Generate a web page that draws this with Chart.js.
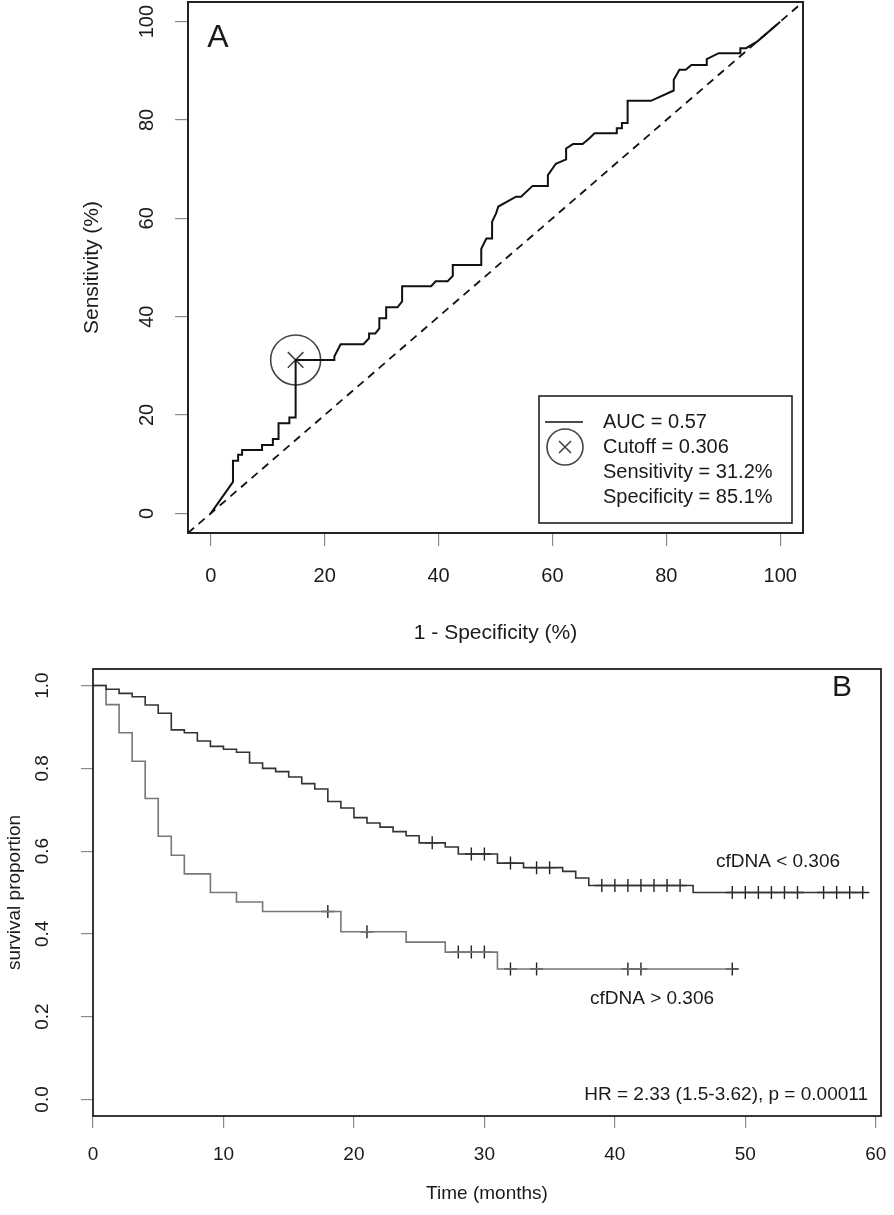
<!DOCTYPE html>
<html><head><meta charset="utf-8">
<script src="https://cdn.jsdelivr.net/npm/chart.js@4.4.1/dist/chart.umd.min.js"></script>
<style>
html,body{margin:0;padding:0;background:#fff;}
#wrap{position:relative;width:894px;height:1215px;overflow:hidden;background:#fff;}
#cA{position:absolute;left:0;top:0;}
#cB{position:absolute;left:0;top:650px;}
</style></head><body>
<div id="wrap"><canvas id="cA" width="894" height="650"></canvas><canvas id="cB" width="894" height="565"></canvas></div>
<script>
// ---------- Panel A data (ROC) ----------
const rocFpr = [0,3.9,3.9,4.8,4.8,5.5,5.5,9.0,9.0,10.9,10.9,11.9,11.9,13.8,13.8,14.9,14.9,
  21.7,21.7,22.8,26.8,27.8,27.8,28.9,29.6,29.6,30.8,30.8,32.8,33.6,33.6,38.7,39.5,41.6,42.5,42.5,
  47.5,47.5,48.4,49.4,49.4,50.1,50.5,53.6,54.5,56.5,59.2,59.2,60.6,62.4,62.4,63.6,65.3,66.5,67.4,
  71.3,71.3,72.2,72.2,73.2,73.2,77.3,81.3,81.3,82.3,83.4,84.4,87.1,87.1,89.2,93.0,93.0,94.0,96.0,100];
const rocTpr = [0,6.4,10.7,10.7,11.9,11.9,12.9,12.9,13.9,13.9,15.1,15.1,18.3,18.3,19.5,19.5,31.2,
  31.2,31.9,34.4,34.4,35.6,36.6,36.6,37.6,39.7,39.7,41.9,41.9,43.1,46.2,46.2,47.2,47.2,48.3,50.5,
  50.5,53.8,55.9,55.9,59.3,61.0,62.4,64.4,64.4,66.6,66.6,68.8,71.1,72.0,74.2,75.1,75.1,76.3,77.3,
  77.3,78.3,78.3,79.4,79.4,83.9,83.9,86.0,88.2,90.2,90.2,91.2,91.2,92.4,93.6,93.6,94.6,94.6,96.0,100];
const cutoffFpr = 14.9;
const cutoffTpr = 31.2;
const rocTicks = [0,20,40,60,80,100];
const rocRange = [-4,104];
const legendLines = ['AUC = 0.57','Cutoff = 0.306','Sensitivity = 31.2%','Specificity = 85.1%'];

// ---------- Panel B data (Kaplan-Meier) ----------
const kmTicksX = [0,10,20,30,40,50,60];
const kmTicksY = [0,0.2,0.4,0.6,0.8,1.0];
const kmTickLabelsY = ['0.0','0.2','0.4','0.6','0.8','1.0'];
const lowTimes  = [0,1,2,3,4,5,6,7,9,11,13,19,24,27,31];
const lowSurv   = [1.000,0.954,0.886,0.817,0.727,0.636,0.590,0.545,0.500,0.477,0.454,0.405,0.380,0.356,0.315];
const lowEnd    = 49;
const lowCensor = [18,21,28,29,30,32,34,41,42,49];
const highTimes = [0,1,2,3,4,5,6,7,8,9,10,11,12,13,14,15,16,17,18,19,20,21,22,23,24,25,27,28,31,33,36,37,38,46];
const highSurv  = [1.000,0.991,0.981,0.973,0.953,0.933,0.893,0.886,0.866,0.853,0.846,0.839,0.813,0.800,0.792,0.779,0.763,0.750,0.720,0.704,0.681,0.668,0.658,0.647,0.637,0.620,0.610,0.593,0.571,0.560,0.551,0.535,0.517,0.500];
const highEnd   = 59;
const highCensor= [26,29,30,32,34,35,39,40,41,42,43,44,45,49,50,51,52,53,54,56,57,58,59];
const hrText = 'HR = 2.33 (1.5-3.62), p = 0.00011';
const groupLabels = ['cfDNA < 0.306','cfDNA > 0.306'];

// ---------- helpers ----------
const FONT = "'Liberation Sans', Arial, Helvetica, sans-serif";
Chart.defaults.font.family = FONT;
Chart.defaults.color = '#1a1a1a';
const INK = '#1a1a1a';

function stepPoints(ts, ss, end){
  const pts = ts.map((t,i)=>({x:t,y:ss[i]}));
  pts.push({x:end,y:ss[ss.length-1]});
  return pts;
}
function survAt(ts, ss, t){
  let v = ss[0];
  for(let i=0;i<ts.length;i++){ if(ts[i] <= t) v = ss[i]; }
  return v;
}
function boxPlugin(color, width){
  return {id:'box', afterDatasetsDraw(chart){
    const {ctx, chartArea:a} = chart;
    ctx.save(); ctx.strokeStyle=color; ctx.lineWidth=width;
    ctx.strokeRect(a.left, a.top, a.right-a.left, a.bottom-a.top);
    ctx.restore();
  }};
}
function rotYTicks(labels, x, font){
  return {id:'rotY', afterDraw(chart){
    const s = chart.scales.y, ctx = chart.ctx;
    ctx.save(); ctx.font = font; ctx.fillStyle = INK;
    ctx.textAlign='center'; ctx.textBaseline='middle';
    s.ticks.forEach((t,i)=>{
      const y = s.getPixelForValue(t.value);
      ctx.save(); ctx.translate(x,y); ctx.rotate(-Math.PI/2);
      ctx.fillText(labels[i], 0, 0); ctx.restore();
    });
    ctx.restore();
  }};
}
function textPlugin(items){
  return {id:'texts', afterDraw(chart){
    const ctx = chart.ctx;
    ctx.save(); ctx.fillStyle = INK; ctx.textBaseline='middle';
    items.forEach(it=>{ ctx.font = it.font; ctx.textAlign = it.align||'center'; ctx.fillText(it.text, it.x, it.y); });
    ctx.restore();
  }};
}
function scaleBase(opts){
  return Object.assign({
    type:'linear',
    border:{display:false},
    grid:{drawOnChartArea:false, drawTicks:true, tickLength:12, color:'#8a8a8a', lineWidth:1.2},
  }, opts);
}
function fixX(h){ return s=>{ s.height = h; s.paddingLeft = 0; s.paddingRight = 0; }; }
function fixY(w){ return s=>{ s.width = w; s.paddingTop = 0; s.paddingBottom = 0; }; }

// ---------- Chart A ----------
const legendA = {id:'legendA', afterDraw(chart){
  const ctx = chart.ctx;
  ctx.save();
  ctx.strokeStyle = '#222'; ctx.lineWidth = 1.6;
  ctx.strokeRect(539, 396, 253, 127);
  ctx.lineWidth = 1.6; ctx.strokeStyle='#111';
  ctx.beginPath(); ctx.moveTo(545,422); ctx.lineTo(583,422); ctx.stroke();
  ctx.strokeStyle = '#444';
  ctx.beginPath(); ctx.arc(565,447,18,0,Math.PI*2); ctx.stroke();
  ctx.beginPath(); ctx.moveTo(559,441); ctx.lineTo(571,453); ctx.moveTo(571,441); ctx.lineTo(559,453); ctx.stroke();
  ctx.fillStyle = INK; ctx.font = '20px '+FONT; ctx.textAlign='left'; ctx.textBaseline='middle';
  legendLines.forEach((t,i)=>ctx.fillText(t, 603, 422 + i*25));
  ctx.restore();
}};

new Chart(document.getElementById('cA'), {
  type:'scatter',
  data:{datasets:[
    {data:[{x:rocRange[0],y:rocRange[0]},{x:rocRange[1],y:rocRange[1]}], showLine:true, borderColor:'#111', borderWidth:1.8, borderDash:[8,6], pointRadius:0},
    {data:rocFpr.map((x,i)=>({x:x,y:rocTpr[i]})), showLine:true, borderColor:'#111', borderWidth:2, pointRadius:0, tension:0},
    {data:[{x:cutoffFpr,y:cutoffTpr}], pointStyle:'circle', pointRadius:25, borderColor:'#444', borderWidth:1.6, backgroundColor:'rgba(0,0,0,0)'},
    {data:[{x:cutoffFpr,y:cutoffTpr}], pointStyle:'crossRot', pointRadius:11, borderColor:'#444', borderWidth:1.6}
  ]},
  options:{
    responsive:false, animation:false, events:[],
    layout:{autoPadding:false, padding:{left:0,right:91,top:2,bottom:0}},
    plugins:{legend:{display:false}, tooltip:{enabled:false}},
    scales:{
      x: scaleBase({min:rocRange[0], max:rocRange[1],
        afterBuildTicks:s=>{s.ticks = rocTicks.map(v=>({value:v}));},
        afterFit:fixX(650-533),
        ticks:{font:{size:20}, color:INK, padding:18, maxRotation:0, autoSkip:false},
        grid:{drawOnChartArea:false, drawTicks:true, tickLength:13, color:'#8a8a8a', lineWidth:1.2},
        title:{display:true, text:'1 - Specificity (%)', font:{size:21}, color:INK, padding:{top:0,bottom:4}}}),
      y: scaleBase({min:rocRange[0], max:rocRange[1],
        afterBuildTicks:s=>{s.ticks = rocTicks.map(v=>({value:v}));},
        afterFit:fixY(188),
        ticks:{display:false},
        grid:{drawOnChartArea:false, drawTicks:true, tickLength:13, color:'#8a8a8a', lineWidth:1.2},
        title:{display:true, text:'Sensitivity (%)', font:{size:21}, color:INK, padding:{top:80,bottom:0}}})
    }
  },
  plugins:[boxPlugin('#222',2), rotYTicks(rocTicks.map(String), 147, '20px '+FONT), legendA,
    textPlugin([{text:'A', x:218, y:38, font:'32px '+FONT}])]
});

// ---------- Chart B ----------
new Chart(document.getElementById('cB'), {
  type:'scatter',
  data:{datasets:[
    {data:stepPoints(highTimes, highSurv, highEnd), showLine:true, stepped:'before', borderColor:'#333', borderWidth:1.6, pointRadius:0},
    {data:stepPoints(lowTimes, lowSurv, lowEnd), showLine:true, stepped:'before', borderColor:'#777', borderWidth:1.6, pointRadius:0},
    {data:highCensor.map(t=>({x:t,y:survAt(highTimes,highSurv,t)})), pointStyle:'cross', pointRadius:6.5, borderColor:'#222', borderWidth:1.4},
    {data:lowCensor.map(t=>({x:t,y:survAt(lowTimes,lowSurv,t)})), pointStyle:'cross', pointRadius:6.5, borderColor:'#222', borderWidth:1.4}
  ]},
  options:{
    responsive:false, animation:false, events:[],
    layout:{autoPadding:false, padding:{left:0,right:13,top:19,bottom:0}},
    plugins:{legend:{display:false}, tooltip:{enabled:false}},
    scales:{
      x: scaleBase({min:0, max:60.4,
        afterBuildTicks:s=>{s.ticks = kmTicksX.map(v=>({value:v}));},
        afterFit:fixX(565-466),
        ticks:{font:{size:19}, color:INK, padding:15, maxRotation:0, autoSkip:false},
        title:{display:true, text:'Time (months)', font:{size:19}, color:INK, padding:{top:0,bottom:10}}}),
      y: scaleBase({min:-0.04, max:1.04,
        afterBuildTicks:s=>{s.ticks = kmTicksY.map(v=>({value:v}));},
        afterFit:fixY(93),
        ticks:{display:false},
        title:{display:true, text:'survival proportion', font:{size:19}, color:INK, padding:{top:3,bottom:0}}})
    }
  },
  plugins:[boxPlugin('#222',1.8), rotYTicks(kmTickLabelsY, 43, '19px '+FONT),
    textPlugin([
      {text:'B', x:842, y:38, font:'30px '+FONT},
      {text:groupLabels[0], x:778, y:212, font:'19px '+FONT},
      {text:groupLabels[1], x:652, y:349, font:'19px '+FONT},
      {text:hrText, x:868, y:445, font:'19px '+FONT, align:'right'}
    ])]
});
</script>
</body></html>
